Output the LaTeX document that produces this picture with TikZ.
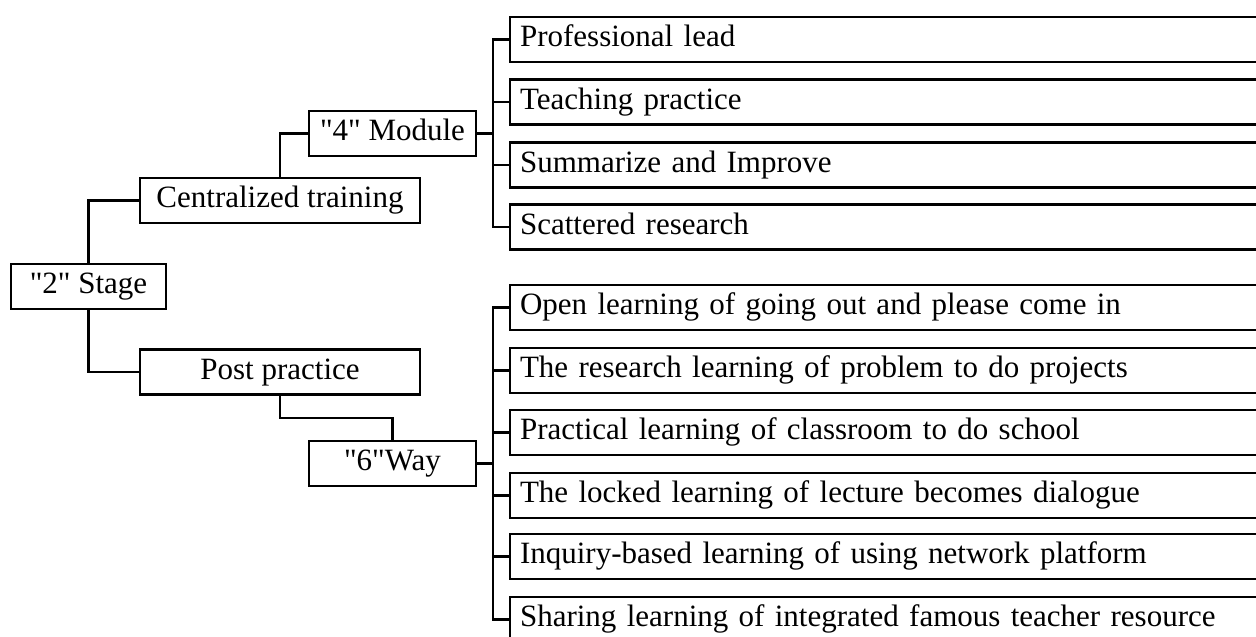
\documentclass[tikz,border=0pt]{standalone}
\usepackage{fontspec}
\newfontfamily\tnr{Liberation Serif}
\begin{document}
\begin{tikzpicture}[x=1pt,y=-1pt,
  every node/.style={font=\tnr\fontsize{31}{37}\selectfont, text height=21.5pt, text depth=7pt, inner ysep=0pt},
  box/.style={draw, line width=2.1pt, minimum height=45pt, inner xsep=0pt, align=center},
  leaf/.style={draw, line width=2.1pt, minimum height=45pt, anchor=west, inner xsep=10pt, text width=760pt, align=left},
  conn/.style={line width=2.1pt}]
\clip (0,0) rectangle (1256,637);
\fill[white] (0,0) rectangle (1256,637);
% main nodes
\node[box, minimum width=155pt] (stage) at (88.5,286.5) {"2" Stage};
\node[box, minimum width=280pt] (cent) at (280,200.5) {Centralized training};
\node[box, minimum width=280pt] (post) at (280,372) {Post practice};
\node[box, minimum width=167pt] (mod) at (392.5,133.5) {"4" Module};
\node[box, minimum width=167pt] (way) at (392.5,463.5) {"6"Way};
% module leaves
\node[leaf] (m1) at (509,39.5) {Professional lead};
\node[leaf] (m2) at (509,102) {Teaching practice};
\node[leaf] (m3) at (509,165) {Summarize and Improve};
\node[leaf] (m4) at (509,227) {Scattered research};
% way leaves
\node[leaf] (w1) at (509,307.5) {Open learning of going out and please come in};
\node[leaf] (w2) at (509,370.5) {The research learning of problem to do projects};
\node[leaf] (w3) at (509,432.5) {Practical learning of classroom to do school};
\node[leaf] (w4) at (509,495.5) {The locked learning of lecture becomes dialogue};
\node[leaf] (w5) at (509,556.5) {Inquiry-based learning of using network platform};
\node[leaf] (w6) at (509,619.5) {Sharing learning of integrated famous teacher resource};
% coordinates
\coordinate (mt) at (493,133.5);
\coordinate (wt) at (493,463.5);
\coordinate (pw) at (280,418);
% connectors
\draw[conn] (stage.north) |- (cent.west);
\draw[conn] (stage.south) |- (post.west);
\draw[conn] (cent.north) |- (mod.west);
\draw[conn] (post.south) -- (pw) -| (way.north);
\draw[conn] (mod.east) -- (mt);
\draw[conn] (way.east) -- (wt);
\foreach \n in {m1,m2,m3,m4} {\draw[conn] (mt) |- (\n.west);}
\foreach \n in {w1,w2,w3,w4,w5,w6} {\draw[conn] (wt) |- (\n.west);}
\end{tikzpicture}
\end{document}
